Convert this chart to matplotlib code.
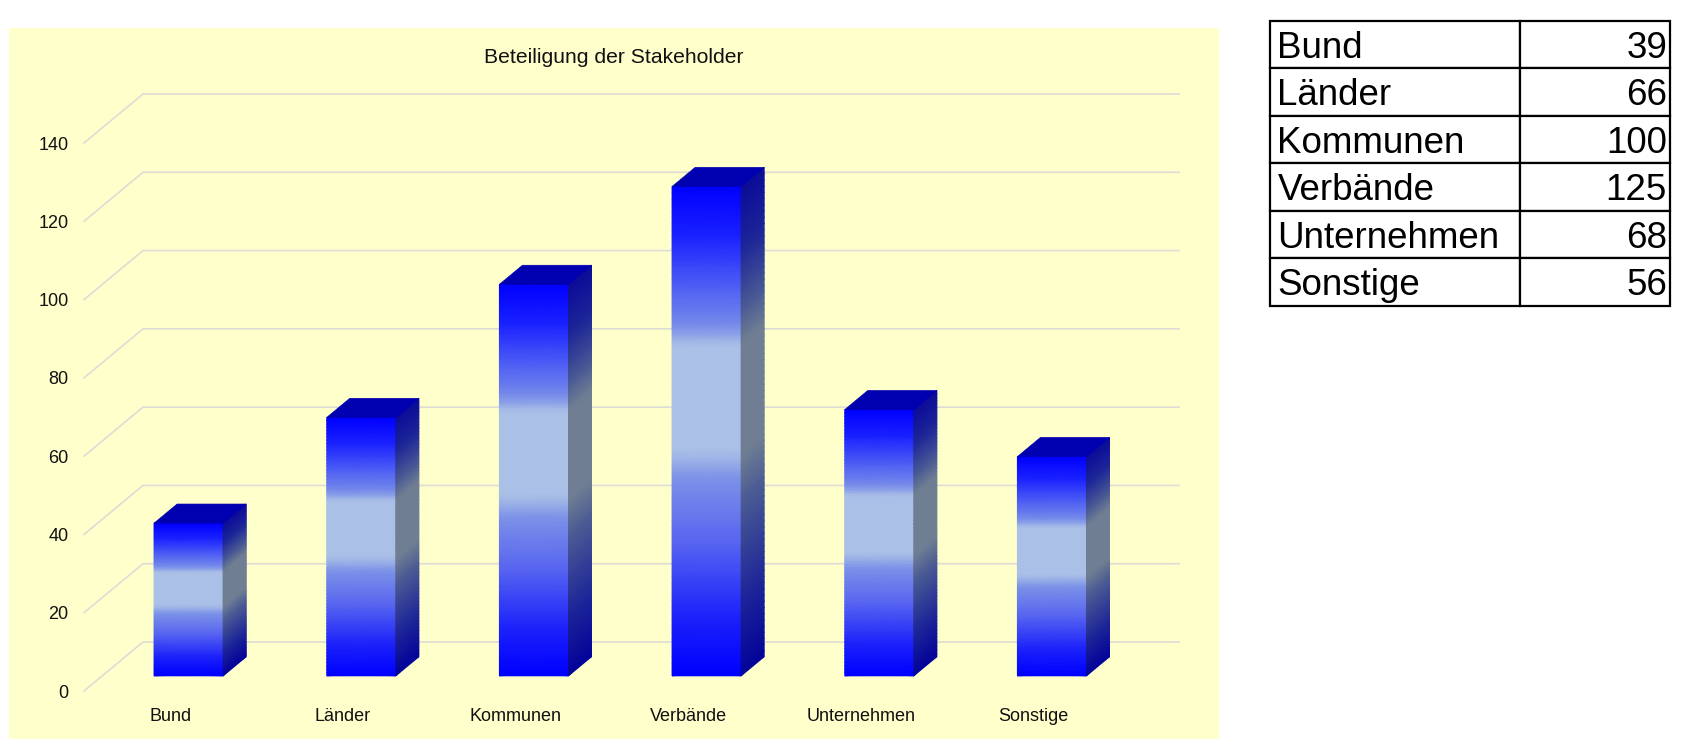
import numpy as np
import matplotlib
matplotlib.use("Agg")
import matplotlib.pyplot as plt
from matplotlib.colors import LinearSegmentedColormap
from matplotlib.patches import Polygon, Rectangle

categories = ["Bund", "Länder", "Kommunen", "Verbände", "Unternehmen", "Sonstige"]
values = [39, 66, 100, 125, 68, 56]
y_ticks = [0, 20, 40, 60, 80, 100, 120, 140]
title = "Beteiligung der Stakeholder"

W, H = 1687, 747
SANS = ["Liberation Sans", "DejaVu Sans"]


def box(left, top, right, bottom):
    return [left / W, 1 - bottom / H, (right - left) / W, (bottom - top) / H]


fig = plt.figure(figsize=(W / 100, H / 100), dpi=100, facecolor="white")
fig.patches.append(Rectangle((8.5 / W, 1 - 739 / H), (1219 - 8.5) / W, (739 - 28) / H,
                             transform=fig.transFigure, facecolor="#ffffcc",
                             edgecolor="none", zorder=-5))

ax = fig.add_axes(box(84, 143, 1120, 691))
ax.patch.set_visible(False)
ax.set_xlim(-0.5, 5.5)
ax.set_ylim(0, 140)
for s in ax.spines.values():
    s.set_visible(False)

# oblique depth of the floor, in data units
DX = 59 / (1036 / 6)
DY = 49 / (548 / 140)
BAR_W = 0.4
D0, D1 = 0.31, 0.70


def proj(x, y, d):
    return x + d * DX, y + d * DY


# walls / grid
x_back_end = 5.5 + (1179 - 1120) / (1036 / 6)
for t in y_ticks:
    ax.plot([-0.5, -0.5 + DX, x_back_end], [t, t + DY, t + DY], color="#dddcd6", lw=1.2,
            clip_on=False, zorder=1, solid_joinstyle="miter")

front_cmap = LinearSegmentedColormap.from_list("front", [
    (0.00, "#0000ff"), (0.10, "#1a22ff"), (0.20, "#4c5cf4"), (0.28, "#7488ea"),
    (0.325, "#aac0e6"), (0.54, "#aac0e6"), (0.60, "#7a90e8"), (0.72, "#5a68f0"),
    (0.88, "#1c22fa"), (1.00, "#0000ff")])
side_cmap = LinearSegmentedColormap.from_list("side", [
    (0.00, "#0c0c98"), (0.12, "#1c2498"), (0.25, "#4a5a94"), (0.32, "#6f7e92"),
    (0.55, "#6f7e92"), (0.65, "#4a5a94"), (0.85, "#1c2498"), (1.00, "#04049a")])

for i, v in enumerate(values):
    n = 80
    frac = np.linspace(0, 1, n)            # 0 at top, 1 at base
    ys = v * (1 - frac)
    xl, xr = i - BAR_W / 2, i + BAR_W / 2

    # front face
    x0, y0 = proj(xl, ys, D0)
    x1, y1 = proj(xr, ys, D0)
    X = np.column_stack([x0, x1])
    Y = np.column_stack([y0, y1])
    C = np.column_stack([frac, frac])
    ax.pcolormesh(X, Y, C, cmap=front_cmap, vmin=0, vmax=1, shading="gouraud",
                  zorder=3, clip_on=False)

    # right side face
    x0, y0 = proj(xr, ys, D0)
    x1, y1 = proj(xr, ys, D1)
    X = np.column_stack([x0, x1])
    Y = np.column_stack([y0, y1])
    ax.pcolormesh(X, Y, C, cmap=side_cmap, vmin=0, vmax=1, shading="gouraud",
                  zorder=3, clip_on=False)

    # top face
    pts = [proj(xl, v, D0), proj(xr, v, D0), proj(xr, v, D1), proj(xl, v, D1)]
    ax.add_patch(Polygon(pts, closed=True, facecolor="#0000b0", edgecolor="#0000b0",
                         lw=0.5, zorder=3, clip_on=False))

ax.set_xticks(range(len(categories)), categories, family=SANS, fontsize=13, color="#111111")
ax.set_yticks(y_ticks, [str(t) for t in y_ticks], family=SANS, fontsize=13, color="#111111")
ax.tick_params(axis="both", length=0)
ax.tick_params(axis="x", pad=12)
ax.tick_params(axis="y", pad=11)
ax.set_title(title, x=0.5116, y=1.14, va="center", family=SANS, fontsize=15.2, color="#111111")

# table
tax = fig.add_axes(box(1270, 20.7, 1670, 305.6))
tax.axis("off")
rows = [[c, str(v)] for c, v in zip(categories, values)]
table = tax.table(cellText=rows, colWidths=[250 / 400, 150 / 400], bbox=[0, 0, 1, 1])
table.auto_set_font_size(False)
for (r, c), cell in table.get_celld().items():
    cell.set_linewidth(1.6)
    cell.set_edgecolor("black")
    cell.set_facecolor("white")
    cell.PAD = 0.03 if c == 0 else 0.02
    side = "left" if c == 0 else "right"
    cell.set_text_props(family=SANS, fontsize=26.5, color="black", va="center_baseline", ha=side)
    cell._loc = side

fig.savefig("out.png", dpi=100, facecolor="white")
